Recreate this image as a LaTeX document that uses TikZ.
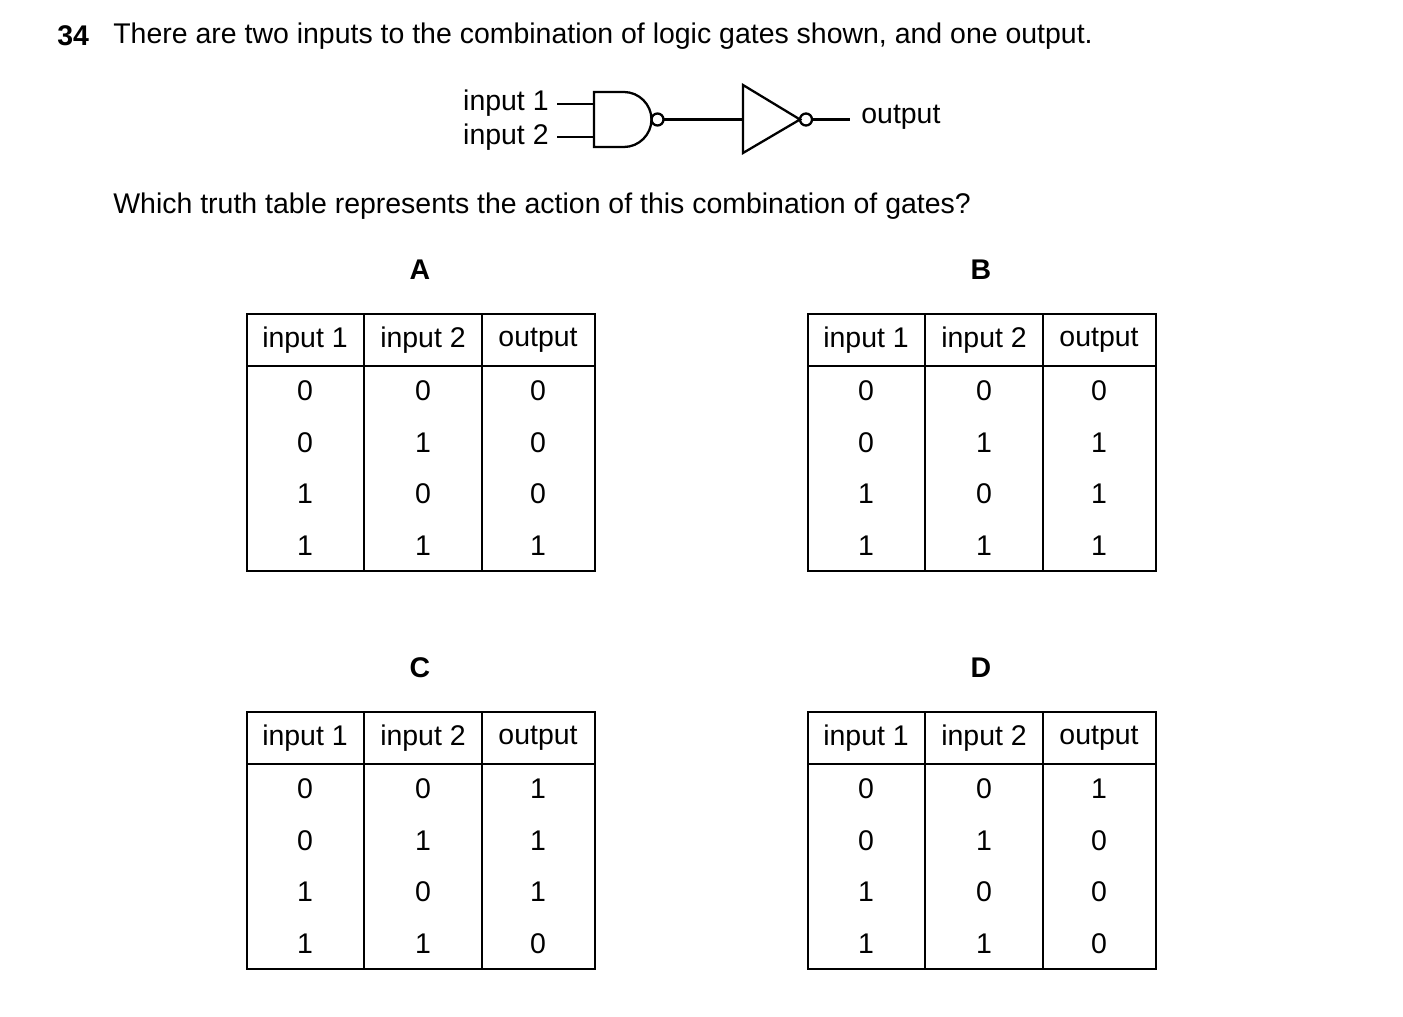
\documentclass[tikz,border=0pt]{standalone}
\usepackage{fontspec}
\setmainfont{Liberation Sans}
\usetikzlibrary{positioning}
\tikzset{
  txt/.style={font=\fontsize{16.2}{19}\selectfont, inner sep=0pt},
  lbl/.style={font=\fontsize{16.2}{19}\selectfont\bfseries, inner sep=0pt},
  wire/.style={line width=1.3pt},
}
% truth table: name, left x, top y, outputs
\newcommand{\truthtab}[6]{%
  \draw[wire] (#2,#3) rectangle ++(348,257);
  \draw[wire] (#2,#3+52) -- ++(348,0);
  \draw[wire] (#2+117,#3) -- ++(0,257);
  \draw[wire] (#2+235,#3) -- ++(0,257);
  \node[txt] (#1h1) at (#2+58,#3+26) {input 1};
  \node[txt] (#1h2) at (#2+176,#3+26) {input 2};
  \node[txt] (#1h3) at (#2+291,#3+26) {output};
  \foreach \a/\b/\o [count=\i] in {0/0/#4,0/1/#5,1/0/#6,1/1/\lastout} {
    \node[txt] (#1a\i) at (#2+58,#3+25+51.7*\i) {\a};
    \node[txt] (#1b\i) at (#2+176,#3+25+51.7*\i) {\b};
    \node[txt] (#1o\i) at (#2+291,#3+25+51.7*\i) {\o};
  }
}
\begin{document}
\begin{tikzpicture}[x=0.02cm,y=-0.02cm]
  \useasboundingbox (0,0) rectangle (1403,1017);

  % Question text
  \node[lbl, anchor=west] (num) at (57,36) {34};
  \node[txt, anchor=west] (q1) at (113,36) {There are two inputs to the combination of logic gates shown, and one output.};
  \node[txt, anchor=west] (q2) at (113,206) {Which truth table represents the action of this combination of gates?};

  % NAND gate
  \draw[wire] (594,92) -- (624,92)
    .. controls (639,92) and (651.5,104.5) .. (651.5,119.5)
    .. controls (651.5,134.5) and (639,147) .. (624,147) -- (594,147) -- cycle;
  \draw[wire] (657.5,119.5) circle (6);
  \node[txt, anchor=east] (in1) at (549,103) {input 1};
  \node[txt, anchor=east] (in2) at (549,137) {input 2};
  \draw[wire] (557,104) -- (594,104);
  \draw[wire] (557,137) -- (594,137);
  \draw[wire] (663.5,119.5) -- (743,119.5);
  % NOT gate
  \draw[wire] (743,85) -- (800,119.5) -- (743,153) -- cycle;
  \draw[wire] (806,119.5) circle (6);
  \node[txt, anchor=west] (out) at (861,117) {output};
  \draw[wire] (812,119.5) -- (850,119.5);

  % Options
  \node[lbl] (optA) at (420,270) {A};
  \node[lbl] (optB) at (981,270) {B};
  \node[lbl] (optC) at (420,668) {C};
  \node[lbl] (optD) at (981,668) {D};

  \def\lastout{1}\truthtab{A}{247}{314}{0}{0}{0}
  \def\lastout{1}\truthtab{B}{808}{314}{0}{1}{1}
  \def\lastout{0}\truthtab{C}{247}{712}{1}{1}{1}
  \def\lastout{0}\truthtab{D}{808}{712}{1}{0}{0}
\end{tikzpicture}
\end{document}
